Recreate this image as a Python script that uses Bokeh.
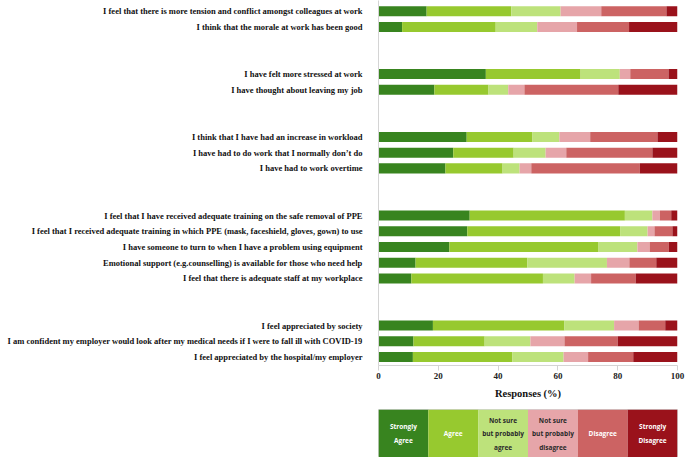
from bokeh.plotting import figure
from bokeh.layouts import column
from bokeh.models import ColumnDataSource, Range1d, FixedTicker
from bokeh.core.properties import value
from bokeh.embed import file_html
from bokeh.resources import INLINE

questions = [
    "I feel that there is more tension and conflict amongst colleagues at work",
    "I think that the morale at work has been good",
    "I have felt more stressed at work",
    "I have thought about leaving my job",
    "I think that I have had an increase in workload",
    "I have had to do work that I normally don\u2019t do",
    "I have had to work overtime",
    "I feel that I have received adequate training on the safe removal of PPE",
    "I feel that I received adequate training in which PPE (mask, faceshield, gloves, gown) to use",
    "I have someone to turn to when I have a problem using equipment",
    "Emotional support (e.g.counselling) is available for those who need help",
    "I feel that there is adequate staff at my workplace",
    "I feel appreciated by society",
    "I am confident my employer would look after my medical needs if I were to fall ill with COVID-19",
    "I feel appreciated by the hospital/my employer",
]
group_sizes = [2, 2, 3, 5, 3]

responses = ["Strongly Agree", "Agree", "Not sure but probably agree",
             "Not sure but probably disagree", "Disagree", "Strongly Disagree"]
legend_labels = ["Strongly\nAgree", "Agree", "Not sure\nbut probably\nagree",
                 "Not sure\nbut probably\ndisagree", "Disagree", "Strongly\nDisagree"]

strongly_agree = [16.1, 7.9, 35.9, 18.7, 29.5, 25.0, 22.4, 30.5, 29.7, 23.7, 12.4, 11.0, 18.2, 11.7, 11.5]
agree = [28.3, 31.3, 31.7, 18.1, 22.0, 20.2, 19.1, 51.9, 51.1, 49.9, 37.4, 44.0, 44.0, 23.8, 33.3]
not_sure_agree = [16.5, 13.9, 13.1, 6.6, 9.0, 10.7, 5.7, 9.2, 9.2, 13.0, 26.6, 10.6, 16.6, 15.3, 17.1]
not_sure_disagree = [13.6, 13.3, 3.5, 5.4, 10.3, 6.9, 3.9, 2.5, 2.3, 4.1, 7.5, 5.5, 8.2, 11.4, 8.2]
disagree = [21.8, 17.4, 12.8, 31.4, 22.5, 28.8, 36.3, 3.8, 6.0, 6.4, 9.0, 14.9, 8.9, 17.8, 15.1]
strongly_disagree = [3.7, 16.2, 3.0, 19.8, 6.7, 8.4, 12.6, 2.1, 1.7, 2.9, 7.1, 14.0, 4.1, 20.0, 14.8]

x_ticks = [0, 20, 40, 60, 80, 100]
x_title = "Responses (%)"

colors = ["#38841f", "#97c92f", "#bde27b", "#e6a5a9", "#cc6363", "#9a121b"]
legend_text_colors = ["#ffffff", "#ffffff", "#2a2a2a", "#2a2a2a", "#ffffff", "#ffffff"]

# row positions: groups separated by a two-row gap
pos = []
cur = 0
for g in group_sizes:
    for _ in range(g):
        pos.append(cur)
        cur += 1
    cur += 2

keys = ["sa", "a", "nsa", "nsd", "d", "sd"]
src = ColumnDataSource(dict(pos=pos, q=questions, sa=strongly_agree, a=agree,
                            nsa=not_sure_agree, nsd=not_sure_disagree,
                            d=disagree, sd=strongly_disagree))

p = figure(width=685, height=401, output_backend="svg", toolbar_location=None,
           x_range=Range1d(0, 100), y_range=Range1d(pos[-1] + 0.54, -0.68),
           min_border_left=378, min_border_right=8, min_border_top=0,
           min_border_bottom=0)
p.hbar_stack(keys, y="pos", height=0.64, color=colors, source=src, line_color=None)

p.xgrid.visible = False
p.ygrid.visible = False
p.outline_line_color = None
p.background_fill_color = "white"
p.border_fill_color = "white"

p.xaxis.ticker = FixedTicker(ticks=x_ticks)
p.xaxis.minor_tick_line_color = None
p.xaxis.major_tick_in = 0
p.xaxis.major_tick_out = 5
p.xaxis.major_tick_line_color = "#d4d4d4"
p.xaxis.axis_line_color = "#d4d4d4"
p.xaxis.major_label_text_font = "Liberation Serif"
p.xaxis.major_label_text_font_style = "bold"
p.xaxis.major_label_text_font_size = "9px"
p.xaxis.major_label_text_color = "#222222"
p.xaxis.major_label_standoff = 2
p.xaxis.axis_label = x_title
p.xaxis.axis_label_text_font = "Liberation Serif"
p.xaxis.axis_label_text_font_style = "bold"
p.xaxis.axis_label_text_font_size = "10.5px"
p.xaxis.axis_label_text_color = "#111111"
p.xaxis.axis_label_standoff = 6

p.yaxis.ticker = FixedTicker(ticks=pos)
p.yaxis.major_label_overrides = {pv: q for pv, q in zip(pos, questions)}
p.yaxis.minor_tick_line_color = None
p.yaxis.major_tick_line_color = None
p.yaxis.major_tick_in = 0
p.yaxis.major_tick_out = 0
p.yaxis.axis_line_color = "#d4d4d4"
p.yaxis.major_label_text_font = "Liberation Serif"
p.yaxis.major_label_text_font_style = "bold"
p.yaxis.major_label_text_font_size = "8.5px"
p.yaxis.major_label_text_color = "#111111"
p.yaxis.major_label_standoff = 16

# legend strip
n = len(responses)
lsrc = ColumnDataSource(dict(left=list(range(n)), right=[i + 1 for i in range(n)],
                             cx=[i + 0.5 for i in range(n)], name=responses,
                             lab=legend_labels, fill=colors, tc=legend_text_colors))
p2 = figure(width=685, height=56, output_backend="svg", toolbar_location=None,
            x_range=Range1d(0, n), y_range=Range1d(0, 1),
            min_border_left=377, min_border_right=8, min_border_top=8,
            min_border_bottom=0)
p2.quad(left="left", right="right", bottom=0, top=1, fill_color="fill",
        line_color=None, source=lsrc)
p2.text(x="cx", y=0.5, text="lab", text_color="tc", text_align="center",
        text_baseline="middle", text_font=value("Open Sans"), text_font_style="bold",
        text_font_size="6.5px", text_line_height=1.5, source=lsrc)
p2.axis.visible = False
p2.xgrid.visible = False
p2.ygrid.visible = False
p2.outline_line_color = "#d4d4d4"

layout = column(p, p2, spacing=0)
open("out.html", "w").write(file_html(layout, INLINE))
